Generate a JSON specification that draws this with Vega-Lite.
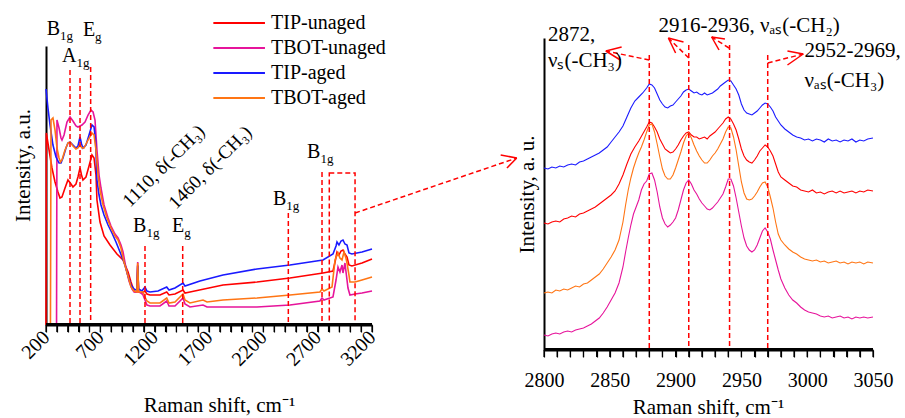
{
"$schema": "https://vega.github.io/schema/vega-lite/v6.json",
"width": 905, "height": 418, "padding": 0, "autosize": {"type": "none"},
"background": "white",
"config": {"view": {"stroke": null}},
"datasets": {
"left": [
{"s":"TIP-unaged","x":200,"y":0},{"s":"TIP-unaged","x":203,"y":192},{"s":"TIP-unaged","x":228,"y":175},{"s":"TIP-unaged","x":255,"y":157},{"s":"TIP-unaged","x":283,"y":143},{"s":"TIP-unaged","x":310,"y":133},{"s":"TIP-unaged","x":329,"y":127},{"s":"TIP-unaged","x":347,"y":128},{"s":"TIP-unaged","x":375,"y":137},{"s":"TIP-unaged","x":402,"y":145},{"s":"TIP-unaged","x":430,"y":141},{"s":"TIP-unaged","x":448,"y":138},{"s":"TIP-unaged","x":476,"y":141},{"s":"TIP-unaged","x":494,"y":148},{"s":"TIP-unaged","x":513,"y":157},{"s":"TIP-unaged","x":527,"y":150},{"s":"TIP-unaged","x":540,"y":145},{"s":"TIP-unaged","x":568,"y":148},{"s":"TIP-unaged","x":596,"y":159},{"s":"TIP-unaged","x":623,"y":170},{"s":"TIP-unaged","x":642,"y":167},{"s":"TIP-unaged","x":660,"y":150},{"s":"TIP-unaged","x":669,"y":125},{"s":"TIP-unaged","x":697,"y":103},{"s":"TIP-unaged","x":734,"y":89},{"s":"TIP-unaged","x":789,"y":80},{"s":"TIP-unaged","x":853,"y":71},{"s":"TIP-unaged","x":909,"y":65},{"s":"TIP-unaged","x":955,"y":53},{"s":"TIP-unaged","x":982,"y":43},{"s":"TIP-unaged","x":1001,"y":37},{"s":"TIP-unaged","x":1019,"y":33},{"s":"TIP-unaged","x":1036,"y":33},{"s":"TIP-unaged","x":1044,"y":60},{"s":"TIP-unaged","x":1052,"y":33},{"s":"TIP-unaged","x":1083,"y":32},{"s":"TIP-unaged","x":1111,"y":34},{"s":"TIP-unaged","x":1129,"y":31},{"s":"TIP-unaged","x":1157,"y":30},{"s":"TIP-unaged","x":1249,"y":30},{"s":"TIP-unaged","x":1311,"y":33},{"s":"TIP-unaged","x":1332,"y":30},{"s":"TIP-unaged","x":1387,"y":31},{"s":"TIP-unaged","x":1461,"y":35},{"s":"TIP-unaged","x":1479,"y":32},{"s":"TIP-unaged","x":1525,"y":33},{"s":"TIP-unaged","x":1829,"y":40},{"s":"TIP-unaged","x":2142,"y":43},{"s":"TIP-unaged","x":2445,"y":47},{"s":"TIP-unaged","x":2749,"y":52},{"s":"TIP-unaged","x":2841,"y":54},{"s":"TIP-unaged","x":2860,"y":63},{"s":"TIP-unaged","x":2878,"y":73},{"s":"TIP-unaged","x":2896,"y":70},{"s":"TIP-unaged","x":2915,"y":74},{"s":"TIP-unaged","x":2933,"y":75},{"s":"TIP-unaged","x":2951,"y":71},{"s":"TIP-unaged","x":2970,"y":68},{"s":"TIP-unaged","x":2988,"y":60},{"s":"TIP-unaged","x":3015,"y":59},{"s":"TIP-unaged","x":3108,"y":62},{"s":"TIP-unaged","x":3200,"y":66},
{"s":"TBOT-unaged","x":200,"y":0},{"s":"TBOT-unaged","x":297,"y":0},{"s":"TBOT-unaged","x":301,"y":205},{"s":"TBOT-unaged","x":320,"y":197},{"s":"TBOT-unaged","x":338,"y":187},{"s":"TBOT-unaged","x":347,"y":185},{"s":"TBOT-unaged","x":366,"y":190},{"s":"TBOT-unaged","x":393,"y":203},{"s":"TBOT-unaged","x":421,"y":208},{"s":"TBOT-unaged","x":448,"y":204},{"s":"TBOT-unaged","x":476,"y":199},{"s":"TBOT-unaged","x":494,"y":198},{"s":"TBOT-unaged","x":513,"y":199},{"s":"TBOT-unaged","x":531,"y":200},{"s":"TBOT-unaged","x":559,"y":203},{"s":"TBOT-unaged","x":587,"y":210},{"s":"TBOT-unaged","x":614,"y":215},{"s":"TBOT-unaged","x":633,"y":213},{"s":"TBOT-unaged","x":651,"y":205},{"s":"TBOT-unaged","x":669,"y":175},{"s":"TBOT-unaged","x":688,"y":150},{"s":"TBOT-unaged","x":706,"y":137},{"s":"TBOT-unaged","x":734,"y":120},{"s":"TBOT-unaged","x":771,"y":107},{"s":"TBOT-unaged","x":798,"y":99},{"s":"TBOT-unaged","x":835,"y":91},{"s":"TBOT-unaged","x":863,"y":87},{"s":"TBOT-unaged","x":890,"y":80},{"s":"TBOT-unaged","x":909,"y":73},{"s":"TBOT-unaged","x":936,"y":57},{"s":"TBOT-unaged","x":964,"y":44},{"s":"TBOT-unaged","x":991,"y":36},{"s":"TBOT-unaged","x":1010,"y":33},{"s":"TBOT-unaged","x":1036,"y":33},{"s":"TBOT-unaged","x":1044,"y":63},{"s":"TBOT-unaged","x":1052,"y":33},{"s":"TBOT-unaged","x":1074,"y":32},{"s":"TBOT-unaged","x":1093,"y":30},{"s":"TBOT-unaged","x":1111,"y":25},{"s":"TBOT-unaged","x":1129,"y":20},{"s":"TBOT-unaged","x":1157,"y":19},{"s":"TBOT-unaged","x":1249,"y":19},{"s":"TBOT-unaged","x":1311,"y":24},{"s":"TBOT-unaged","x":1332,"y":19},{"s":"TBOT-unaged","x":1387,"y":19},{"s":"TBOT-unaged","x":1461,"y":27},{"s":"TBOT-unaged","x":1479,"y":21},{"s":"TBOT-unaged","x":1525,"y":18},{"s":"TBOT-unaged","x":1645,"y":20},{"s":"TBOT-unaged","x":1682,"y":18},{"s":"TBOT-unaged","x":2142,"y":18},{"s":"TBOT-unaged","x":2445,"y":20},{"s":"TBOT-unaged","x":2721,"y":24},{"s":"TBOT-unaged","x":2740,"y":27},{"s":"TBOT-unaged","x":2758,"y":25},{"s":"TBOT-unaged","x":2841,"y":28},{"s":"TBOT-unaged","x":2869,"y":45},{"s":"TBOT-unaged","x":2887,"y":58},{"s":"TBOT-unaged","x":2905,"y":53},{"s":"TBOT-unaged","x":2924,"y":60},{"s":"TBOT-unaged","x":2933,"y":52},{"s":"TBOT-unaged","x":2951,"y":62},{"s":"TBOT-unaged","x":2970,"y":45},{"s":"TBOT-unaged","x":2979,"y":37},{"s":"TBOT-unaged","x":2997,"y":30},{"s":"TBOT-unaged","x":3044,"y":31},{"s":"TBOT-unaged","x":3108,"y":32},{"s":"TBOT-unaged","x":3200,"y":34},
{"s":"TIP-aged","x":200,"y":236},{"s":"TIP-aged","x":218,"y":217},{"s":"TIP-aged","x":237,"y":200},{"s":"TIP-aged","x":264,"y":180},{"s":"TIP-aged","x":292,"y":168},{"s":"TIP-aged","x":320,"y":162},{"s":"TIP-aged","x":338,"y":162},{"s":"TIP-aged","x":356,"y":167},{"s":"TIP-aged","x":384,"y":177},{"s":"TIP-aged","x":402,"y":182},{"s":"TIP-aged","x":421,"y":183},{"s":"TIP-aged","x":448,"y":180},{"s":"TIP-aged","x":476,"y":177},{"s":"TIP-aged","x":494,"y":179},{"s":"TIP-aged","x":513,"y":188},{"s":"TIP-aged","x":527,"y":181},{"s":"TIP-aged","x":540,"y":177},{"s":"TIP-aged","x":568,"y":180},{"s":"TIP-aged","x":596,"y":190},{"s":"TIP-aged","x":623,"y":200},{"s":"TIP-aged","x":642,"y":198},{"s":"TIP-aged","x":656,"y":185},{"s":"TIP-aged","x":669,"y":145},{"s":"TIP-aged","x":688,"y":130},{"s":"TIP-aged","x":706,"y":120},{"s":"TIP-aged","x":734,"y":110},{"s":"TIP-aged","x":771,"y":100},{"s":"TIP-aged","x":807,"y":92},{"s":"TIP-aged","x":844,"y":83},{"s":"TIP-aged","x":881,"y":73},{"s":"TIP-aged","x":918,"y":63},{"s":"TIP-aged","x":955,"y":49},{"s":"TIP-aged","x":982,"y":40},{"s":"TIP-aged","x":1010,"y":36},{"s":"TIP-aged","x":1028,"y":35},{"s":"TIP-aged","x":1036,"y":35},{"s":"TIP-aged","x":1044,"y":59},{"s":"TIP-aged","x":1052,"y":36},{"s":"TIP-aged","x":1083,"y":34},{"s":"TIP-aged","x":1111,"y":38},{"s":"TIP-aged","x":1129,"y":34},{"s":"TIP-aged","x":1157,"y":33},{"s":"TIP-aged","x":1231,"y":34},{"s":"TIP-aged","x":1311,"y":38},{"s":"TIP-aged","x":1332,"y":35},{"s":"TIP-aged","x":1387,"y":37},{"s":"TIP-aged","x":1461,"y":42},{"s":"TIP-aged","x":1479,"y":39},{"s":"TIP-aged","x":1617,"y":44},{"s":"TIP-aged","x":1829,"y":50},{"s":"TIP-aged","x":2142,"y":56},{"s":"TIP-aged","x":2445,"y":60},{"s":"TIP-aged","x":2749,"y":65},{"s":"TIP-aged","x":2841,"y":71},{"s":"TIP-aged","x":2869,"y":79},{"s":"TIP-aged","x":2878,"y":83},{"s":"TIP-aged","x":2896,"y":80},{"s":"TIP-aged","x":2915,"y":84},{"s":"TIP-aged","x":2933,"y":85},{"s":"TIP-aged","x":2951,"y":81},{"s":"TIP-aged","x":2970,"y":80},{"s":"TIP-aged","x":2988,"y":72},{"s":"TIP-aged","x":3015,"y":71},{"s":"TIP-aged","x":3108,"y":73},{"s":"TIP-aged","x":3200,"y":76},
{"s":"TBOT-aged","x":200,"y":0},{"s":"TBOT-aged","x":241,"y":0},{"s":"TBOT-aged","x":246,"y":205},{"s":"TBOT-aged","x":264,"y":207},{"s":"TBOT-aged","x":283,"y":195},{"s":"TBOT-aged","x":301,"y":177},{"s":"TBOT-aged","x":320,"y":167},{"s":"TBOT-aged","x":333,"y":163},{"s":"TBOT-aged","x":347,"y":165},{"s":"TBOT-aged","x":375,"y":175},{"s":"TBOT-aged","x":402,"y":182},{"s":"TBOT-aged","x":421,"y":183},{"s":"TBOT-aged","x":448,"y":179},{"s":"TBOT-aged","x":476,"y":176},{"s":"TBOT-aged","x":494,"y":177},{"s":"TBOT-aged","x":513,"y":180},{"s":"TBOT-aged","x":531,"y":177},{"s":"TBOT-aged","x":550,"y":177},{"s":"TBOT-aged","x":587,"y":185},{"s":"TBOT-aged","x":623,"y":192},{"s":"TBOT-aged","x":642,"y":190},{"s":"TBOT-aged","x":660,"y":175},{"s":"TBOT-aged","x":679,"y":150},{"s":"TBOT-aged","x":697,"y":135},{"s":"TBOT-aged","x":725,"y":120},{"s":"TBOT-aged","x":761,"y":107},{"s":"TBOT-aged","x":798,"y":97},{"s":"TBOT-aged","x":835,"y":89},{"s":"TBOT-aged","x":863,"y":85},{"s":"TBOT-aged","x":890,"y":77},{"s":"TBOT-aged","x":918,"y":63},{"s":"TBOT-aged","x":955,"y":49},{"s":"TBOT-aged","x":982,"y":38},{"s":"TBOT-aged","x":1010,"y":34},{"s":"TBOT-aged","x":1036,"y":33},{"s":"TBOT-aged","x":1044,"y":62},{"s":"TBOT-aged","x":1052,"y":33},{"s":"TBOT-aged","x":1074,"y":33},{"s":"TBOT-aged","x":1093,"y":33},{"s":"TBOT-aged","x":1111,"y":28},{"s":"TBOT-aged","x":1129,"y":24},{"s":"TBOT-aged","x":1157,"y":22},{"s":"TBOT-aged","x":1249,"y":22},{"s":"TBOT-aged","x":1311,"y":27},{"s":"TBOT-aged","x":1332,"y":22},{"s":"TBOT-aged","x":1387,"y":23},{"s":"TBOT-aged","x":1461,"y":31},{"s":"TBOT-aged","x":1479,"y":25},{"s":"TBOT-aged","x":1525,"y":22},{"s":"TBOT-aged","x":1645,"y":25},{"s":"TBOT-aged","x":1682,"y":23},{"s":"TBOT-aged","x":1829,"y":25},{"s":"TBOT-aged","x":2142,"y":27},{"s":"TBOT-aged","x":2445,"y":30},{"s":"TBOT-aged","x":2721,"y":33},{"s":"TBOT-aged","x":2740,"y":36},{"s":"TBOT-aged","x":2758,"y":34},{"s":"TBOT-aged","x":2832,"y":38},{"s":"TBOT-aged","x":2860,"y":65},{"s":"TBOT-aged","x":2887,"y":72},{"s":"TBOT-aged","x":2905,"y":67},{"s":"TBOT-aged","x":2924,"y":65},{"s":"TBOT-aged","x":2942,"y":73},{"s":"TBOT-aged","x":2960,"y":67},{"s":"TBOT-aged","x":2970,"y":62},{"s":"TBOT-aged","x":2988,"y":50},{"s":"TBOT-aged","x":2997,"y":43},{"s":"TBOT-aged","x":3044,"y":43},{"s":"TBOT-aged","x":3108,"y":45},{"s":"TBOT-aged","x":3200,"y":48}
],
"right": [
{"s":"TIP-unaged","x":2800,"y":127},{"s":"TIP-unaged","x":2803,"y":126},{"s":"TIP-unaged","x":2806,"y":128},{"s":"TIP-unaged","x":2809,"y":129},{"s":"TIP-unaged","x":2812,"y":128},{"s":"TIP-unaged","x":2815,"y":131},{"s":"TIP-unaged","x":2818,"y":132},{"s":"TIP-unaged","x":2821,"y":134},{"s":"TIP-unaged","x":2824,"y":133},{"s":"TIP-unaged","x":2827,"y":136},{"s":"TIP-unaged","x":2830,"y":137},{"s":"TIP-unaged","x":2833,"y":139},{"s":"TIP-unaged","x":2836,"y":141},{"s":"TIP-unaged","x":2839,"y":143},{"s":"TIP-unaged","x":2842,"y":146},{"s":"TIP-unaged","x":2845,"y":149},{"s":"TIP-unaged","x":2848,"y":152},{"s":"TIP-unaged","x":2851,"y":155},{"s":"TIP-unaged","x":2854,"y":159},{"s":"TIP-unaged","x":2857,"y":166},{"s":"TIP-unaged","x":2860,"y":175},{"s":"TIP-unaged","x":2863,"y":186},{"s":"TIP-unaged","x":2866,"y":196},{"s":"TIP-unaged","x":2869,"y":203},{"s":"TIP-unaged","x":2872,"y":209},{"s":"TIP-unaged","x":2875,"y":216},{"s":"TIP-unaged","x":2878,"y":223},{"s":"TIP-unaged","x":2880,"y":228},{"s":"TIP-unaged","x":2882,"y":227},{"s":"TIP-unaged","x":2884,"y":223},{"s":"TIP-unaged","x":2886,"y":218},{"s":"TIP-unaged","x":2888,"y":211},{"s":"TIP-unaged","x":2890,"y":206},{"s":"TIP-unaged","x":2892,"y":201},{"s":"TIP-unaged","x":2894,"y":199},{"s":"TIP-unaged","x":2896,"y":197},{"s":"TIP-unaged","x":2898,"y":198},{"s":"TIP-unaged","x":2900,"y":201},{"s":"TIP-unaged","x":2902,"y":205},{"s":"TIP-unaged","x":2904,"y":210},{"s":"TIP-unaged","x":2906,"y":214},{"s":"TIP-unaged","x":2908,"y":217},{"s":"TIP-unaged","x":2910,"y":218},{"s":"TIP-unaged","x":2912,"y":215},{"s":"TIP-unaged","x":2914,"y":213},{"s":"TIP-unaged","x":2916,"y":213},{"s":"TIP-unaged","x":2918,"y":211},{"s":"TIP-unaged","x":2920,"y":212},{"s":"TIP-unaged","x":2922,"y":213},{"s":"TIP-unaged","x":2924,"y":211},{"s":"TIP-unaged","x":2926,"y":214},{"s":"TIP-unaged","x":2928,"y":216},{"s":"TIP-unaged","x":2930,"y":218},{"s":"TIP-unaged","x":2932,"y":221},{"s":"TIP-unaged","x":2934,"y":224},{"s":"TIP-unaged","x":2936,"y":227},{"s":"TIP-unaged","x":2938,"y":231},{"s":"TIP-unaged","x":2940,"y":233},{"s":"TIP-unaged","x":2942,"y":231},{"s":"TIP-unaged","x":2944,"y":226},{"s":"TIP-unaged","x":2946,"y":220},{"s":"TIP-unaged","x":2948,"y":211},{"s":"TIP-unaged","x":2950,"y":201},{"s":"TIP-unaged","x":2952,"y":194},{"s":"TIP-unaged","x":2954,"y":190},{"s":"TIP-unaged","x":2956,"y":188},{"s":"TIP-unaged","x":2958,"y":187},{"s":"TIP-unaged","x":2960,"y":190},{"s":"TIP-unaged","x":2962,"y":194},{"s":"TIP-unaged","x":2964,"y":199},{"s":"TIP-unaged","x":2966,"y":202},{"s":"TIP-unaged","x":2968,"y":205},{"s":"TIP-unaged","x":2970,"y":203},{"s":"TIP-unaged","x":2972,"y":199},{"s":"TIP-unaged","x":2974,"y":194},{"s":"TIP-unaged","x":2976,"y":186},{"s":"TIP-unaged","x":2978,"y":178},{"s":"TIP-unaged","x":2980,"y":173},{"s":"TIP-unaged","x":2983,"y":170},{"s":"TIP-unaged","x":2986,"y":167},{"s":"TIP-unaged","x":2989,"y":164},{"s":"TIP-unaged","x":2992,"y":163},{"s":"TIP-unaged","x":2995,"y":160},{"s":"TIP-unaged","x":2998,"y":159},{"s":"TIP-unaged","x":3001,"y":158},{"s":"TIP-unaged","x":3004,"y":160},{"s":"TIP-unaged","x":3007,"y":157},{"s":"TIP-unaged","x":3010,"y":158},{"s":"TIP-unaged","x":3013,"y":156},{"s":"TIP-unaged","x":3016,"y":158},{"s":"TIP-unaged","x":3019,"y":159},{"s":"TIP-unaged","x":3022,"y":157},{"s":"TIP-unaged","x":3025,"y":159},{"s":"TIP-unaged","x":3028,"y":157},{"s":"TIP-unaged","x":3031,"y":158},{"s":"TIP-unaged","x":3034,"y":159},{"s":"TIP-unaged","x":3037,"y":157},{"s":"TIP-unaged","x":3040,"y":159},{"s":"TIP-unaged","x":3043,"y":158},{"s":"TIP-unaged","x":3046,"y":160},{"s":"TIP-unaged","x":3050,"y":159},
{"s":"TBOT-unaged","x":2800,"y":15},{"s":"TBOT-unaged","x":2803,"y":14},{"s":"TBOT-unaged","x":2806,"y":16},{"s":"TBOT-unaged","x":2809,"y":17},{"s":"TBOT-unaged","x":2812,"y":16},{"s":"TBOT-unaged","x":2815,"y":18},{"s":"TBOT-unaged","x":2818,"y":19},{"s":"TBOT-unaged","x":2821,"y":18},{"s":"TBOT-unaged","x":2824,"y":20},{"s":"TBOT-unaged","x":2827,"y":21},{"s":"TBOT-unaged","x":2830,"y":22},{"s":"TBOT-unaged","x":2833,"y":24},{"s":"TBOT-unaged","x":2836,"y":26},{"s":"TBOT-unaged","x":2839,"y":29},{"s":"TBOT-unaged","x":2842,"y":32},{"s":"TBOT-unaged","x":2845,"y":37},{"s":"TBOT-unaged","x":2848,"y":43},{"s":"TBOT-unaged","x":2851,"y":50},{"s":"TBOT-unaged","x":2854,"y":57},{"s":"TBOT-unaged","x":2857,"y":67},{"s":"TBOT-unaged","x":2860,"y":83},{"s":"TBOT-unaged","x":2862,"y":98},{"s":"TBOT-unaged","x":2864,"y":112},{"s":"TBOT-unaged","x":2866,"y":125},{"s":"TBOT-unaged","x":2868,"y":136},{"s":"TBOT-unaged","x":2870,"y":143},{"s":"TBOT-unaged","x":2872,"y":150},{"s":"TBOT-unaged","x":2874,"y":160},{"s":"TBOT-unaged","x":2876,"y":166},{"s":"TBOT-unaged","x":2878,"y":169},{"s":"TBOT-unaged","x":2880,"y":176},{"s":"TBOT-unaged","x":2882,"y":177},{"s":"TBOT-unaged","x":2884,"y":170},{"s":"TBOT-unaged","x":2886,"y":158},{"s":"TBOT-unaged","x":2888,"y":143},{"s":"TBOT-unaged","x":2890,"y":132},{"s":"TBOT-unaged","x":2892,"y":126},{"s":"TBOT-unaged","x":2894,"y":123},{"s":"TBOT-unaged","x":2896,"y":125},{"s":"TBOT-unaged","x":2898,"y":128},{"s":"TBOT-unaged","x":2900,"y":132},{"s":"TBOT-unaged","x":2902,"y":140},{"s":"TBOT-unaged","x":2904,"y":150},{"s":"TBOT-unaged","x":2906,"y":160},{"s":"TBOT-unaged","x":2908,"y":167},{"s":"TBOT-unaged","x":2910,"y":170},{"s":"TBOT-unaged","x":2912,"y":166},{"s":"TBOT-unaged","x":2914,"y":160},{"s":"TBOT-unaged","x":2916,"y":156},{"s":"TBOT-unaged","x":2918,"y":151},{"s":"TBOT-unaged","x":2920,"y":147},{"s":"TBOT-unaged","x":2922,"y":144},{"s":"TBOT-unaged","x":2924,"y":141},{"s":"TBOT-unaged","x":2926,"y":140},{"s":"TBOT-unaged","x":2928,"y":142},{"s":"TBOT-unaged","x":2930,"y":145},{"s":"TBOT-unaged","x":2932,"y":148},{"s":"TBOT-unaged","x":2934,"y":152},{"s":"TBOT-unaged","x":2936,"y":156},{"s":"TBOT-unaged","x":2938,"y":163},{"s":"TBOT-unaged","x":2940,"y":171},{"s":"TBOT-unaged","x":2942,"y":171},{"s":"TBOT-unaged","x":2944,"y":164},{"s":"TBOT-unaged","x":2946,"y":152},{"s":"TBOT-unaged","x":2948,"y":138},{"s":"TBOT-unaged","x":2950,"y":124},{"s":"TBOT-unaged","x":2952,"y":112},{"s":"TBOT-unaged","x":2954,"y":104},{"s":"TBOT-unaged","x":2956,"y":100},{"s":"TBOT-unaged","x":2958,"y":98},{"s":"TBOT-unaged","x":2960,"y":100},{"s":"TBOT-unaged","x":2962,"y":105},{"s":"TBOT-unaged","x":2964,"y":112},{"s":"TBOT-unaged","x":2966,"y":119},{"s":"TBOT-unaged","x":2968,"y":122},{"s":"TBOT-unaged","x":2970,"y":118},{"s":"TBOT-unaged","x":2972,"y":111},{"s":"TBOT-unaged","x":2974,"y":100},{"s":"TBOT-unaged","x":2976,"y":90},{"s":"TBOT-unaged","x":2978,"y":80},{"s":"TBOT-unaged","x":2980,"y":71},{"s":"TBOT-unaged","x":2983,"y":62},{"s":"TBOT-unaged","x":2986,"y":55},{"s":"TBOT-unaged","x":2989,"y":50},{"s":"TBOT-unaged","x":2992,"y":47},{"s":"TBOT-unaged","x":2995,"y":43},{"s":"TBOT-unaged","x":2998,"y":40},{"s":"TBOT-unaged","x":3001,"y":38},{"s":"TBOT-unaged","x":3004,"y":37},{"s":"TBOT-unaged","x":3007,"y":36},{"s":"TBOT-unaged","x":3010,"y":34},{"s":"TBOT-unaged","x":3013,"y":33},{"s":"TBOT-unaged","x":3016,"y":34},{"s":"TBOT-unaged","x":3019,"y":32},{"s":"TBOT-unaged","x":3022,"y":33},{"s":"TBOT-unaged","x":3025,"y":34},{"s":"TBOT-unaged","x":3028,"y":32},{"s":"TBOT-unaged","x":3031,"y":33},{"s":"TBOT-unaged","x":3034,"y":31},{"s":"TBOT-unaged","x":3037,"y":33},{"s":"TBOT-unaged","x":3040,"y":32},{"s":"TBOT-unaged","x":3043,"y":33},{"s":"TBOT-unaged","x":3046,"y":32},{"s":"TBOT-unaged","x":3050,"y":33},
{"s":"TIP-aged","x":2800,"y":182},{"s":"TIP-aged","x":2803,"y":181},{"s":"TIP-aged","x":2806,"y":183},{"s":"TIP-aged","x":2809,"y":182},{"s":"TIP-aged","x":2812,"y":184},{"s":"TIP-aged","x":2815,"y":183},{"s":"TIP-aged","x":2818,"y":185},{"s":"TIP-aged","x":2821,"y":186},{"s":"TIP-aged","x":2824,"y":185},{"s":"TIP-aged","x":2827,"y":188},{"s":"TIP-aged","x":2830,"y":189},{"s":"TIP-aged","x":2833,"y":191},{"s":"TIP-aged","x":2836,"y":193},{"s":"TIP-aged","x":2839,"y":195},{"s":"TIP-aged","x":2842,"y":197},{"s":"TIP-aged","x":2845,"y":200},{"s":"TIP-aged","x":2848,"y":203},{"s":"TIP-aged","x":2851,"y":208},{"s":"TIP-aged","x":2854,"y":213},{"s":"TIP-aged","x":2857,"y":218},{"s":"TIP-aged","x":2860,"y":224},{"s":"TIP-aged","x":2863,"y":233},{"s":"TIP-aged","x":2866,"y":242},{"s":"TIP-aged","x":2869,"y":249},{"s":"TIP-aged","x":2872,"y":253},{"s":"TIP-aged","x":2875,"y":257},{"s":"TIP-aged","x":2878,"y":262},{"s":"TIP-aged","x":2880,"y":266},{"s":"TIP-aged","x":2882,"y":265},{"s":"TIP-aged","x":2884,"y":262},{"s":"TIP-aged","x":2886,"y":256},{"s":"TIP-aged","x":2888,"y":250},{"s":"TIP-aged","x":2890,"y":246},{"s":"TIP-aged","x":2892,"y":243},{"s":"TIP-aged","x":2894,"y":242},{"s":"TIP-aged","x":2896,"y":244},{"s":"TIP-aged","x":2898,"y":245},{"s":"TIP-aged","x":2900,"y":248},{"s":"TIP-aged","x":2902,"y":251},{"s":"TIP-aged","x":2904,"y":254},{"s":"TIP-aged","x":2906,"y":258},{"s":"TIP-aged","x":2908,"y":260},{"s":"TIP-aged","x":2910,"y":261},{"s":"TIP-aged","x":2912,"y":259},{"s":"TIP-aged","x":2914,"y":257},{"s":"TIP-aged","x":2916,"y":258},{"s":"TIP-aged","x":2918,"y":256},{"s":"TIP-aged","x":2920,"y":255},{"s":"TIP-aged","x":2922,"y":257},{"s":"TIP-aged","x":2924,"y":255},{"s":"TIP-aged","x":2926,"y":256},{"s":"TIP-aged","x":2928,"y":257},{"s":"TIP-aged","x":2930,"y":259},{"s":"TIP-aged","x":2932,"y":261},{"s":"TIP-aged","x":2934,"y":264},{"s":"TIP-aged","x":2936,"y":266},{"s":"TIP-aged","x":2938,"y":268},{"s":"TIP-aged","x":2940,"y":270},{"s":"TIP-aged","x":2942,"y":269},{"s":"TIP-aged","x":2944,"y":265},{"s":"TIP-aged","x":2946,"y":261},{"s":"TIP-aged","x":2948,"y":255},{"s":"TIP-aged","x":2950,"y":246},{"s":"TIP-aged","x":2952,"y":240},{"s":"TIP-aged","x":2954,"y":237},{"s":"TIP-aged","x":2956,"y":236},{"s":"TIP-aged","x":2958,"y":235},{"s":"TIP-aged","x":2960,"y":237},{"s":"TIP-aged","x":2962,"y":239},{"s":"TIP-aged","x":2964,"y":242},{"s":"TIP-aged","x":2966,"y":245},{"s":"TIP-aged","x":2968,"y":247},{"s":"TIP-aged","x":2970,"y":246},{"s":"TIP-aged","x":2972,"y":243},{"s":"TIP-aged","x":2974,"y":239},{"s":"TIP-aged","x":2976,"y":233},{"s":"TIP-aged","x":2978,"y":229},{"s":"TIP-aged","x":2980,"y":225},{"s":"TIP-aged","x":2983,"y":221},{"s":"TIP-aged","x":2986,"y":218},{"s":"TIP-aged","x":2989,"y":215},{"s":"TIP-aged","x":2992,"y":213},{"s":"TIP-aged","x":2995,"y":212},{"s":"TIP-aged","x":2998,"y":210},{"s":"TIP-aged","x":3001,"y":211},{"s":"TIP-aged","x":3004,"y":209},{"s":"TIP-aged","x":3007,"y":211},{"s":"TIP-aged","x":3010,"y":210},{"s":"TIP-aged","x":3013,"y":208},{"s":"TIP-aged","x":3016,"y":211},{"s":"TIP-aged","x":3019,"y":209},{"s":"TIP-aged","x":3022,"y":210},{"s":"TIP-aged","x":3025,"y":208},{"s":"TIP-aged","x":3028,"y":210},{"s":"TIP-aged","x":3031,"y":209},{"s":"TIP-aged","x":3034,"y":211},{"s":"TIP-aged","x":3037,"y":208},{"s":"TIP-aged","x":3040,"y":210},{"s":"TIP-aged","x":3043,"y":209},{"s":"TIP-aged","x":3046,"y":211},{"s":"TIP-aged","x":3050,"y":212},
{"s":"TBOT-aged","x":2800,"y":57},{"s":"TBOT-aged","x":2803,"y":58},{"s":"TBOT-aged","x":2806,"y":57},{"s":"TBOT-aged","x":2809,"y":60},{"s":"TBOT-aged","x":2812,"y":59},{"s":"TBOT-aged","x":2815,"y":61},{"s":"TBOT-aged","x":2818,"y":60},{"s":"TBOT-aged","x":2821,"y":62},{"s":"TBOT-aged","x":2824,"y":64},{"s":"TBOT-aged","x":2827,"y":63},{"s":"TBOT-aged","x":2830,"y":66},{"s":"TBOT-aged","x":2833,"y":67},{"s":"TBOT-aged","x":2836,"y":70},{"s":"TBOT-aged","x":2839,"y":73},{"s":"TBOT-aged","x":2842,"y":76},{"s":"TBOT-aged","x":2845,"y":81},{"s":"TBOT-aged","x":2848,"y":87},{"s":"TBOT-aged","x":2851,"y":93},{"s":"TBOT-aged","x":2854,"y":100},{"s":"TBOT-aged","x":2857,"y":110},{"s":"TBOT-aged","x":2860,"y":128},{"s":"TBOT-aged","x":2862,"y":145},{"s":"TBOT-aged","x":2864,"y":160},{"s":"TBOT-aged","x":2866,"y":172},{"s":"TBOT-aged","x":2868,"y":182},{"s":"TBOT-aged","x":2870,"y":190},{"s":"TBOT-aged","x":2872,"y":197},{"s":"TBOT-aged","x":2874,"y":203},{"s":"TBOT-aged","x":2876,"y":210},{"s":"TBOT-aged","x":2878,"y":218},{"s":"TBOT-aged","x":2880,"y":225},{"s":"TBOT-aged","x":2882,"y":226},{"s":"TBOT-aged","x":2884,"y":218},{"s":"TBOT-aged","x":2886,"y":206},{"s":"TBOT-aged","x":2888,"y":193},{"s":"TBOT-aged","x":2890,"y":181},{"s":"TBOT-aged","x":2892,"y":174},{"s":"TBOT-aged","x":2894,"y":171},{"s":"TBOT-aged","x":2896,"y":171},{"s":"TBOT-aged","x":2898,"y":175},{"s":"TBOT-aged","x":2900,"y":182},{"s":"TBOT-aged","x":2902,"y":190},{"s":"TBOT-aged","x":2904,"y":198},{"s":"TBOT-aged","x":2906,"y":207},{"s":"TBOT-aged","x":2908,"y":214},{"s":"TBOT-aged","x":2910,"y":217},{"s":"TBOT-aged","x":2912,"y":212},{"s":"TBOT-aged","x":2914,"y":205},{"s":"TBOT-aged","x":2916,"y":199},{"s":"TBOT-aged","x":2918,"y":194},{"s":"TBOT-aged","x":2920,"y":190},{"s":"TBOT-aged","x":2922,"y":187},{"s":"TBOT-aged","x":2924,"y":187},{"s":"TBOT-aged","x":2926,"y":190},{"s":"TBOT-aged","x":2928,"y":194},{"s":"TBOT-aged","x":2930,"y":197},{"s":"TBOT-aged","x":2932,"y":201},{"s":"TBOT-aged","x":2934,"y":206},{"s":"TBOT-aged","x":2936,"y":211},{"s":"TBOT-aged","x":2938,"y":218},{"s":"TBOT-aged","x":2940,"y":223},{"s":"TBOT-aged","x":2942,"y":222},{"s":"TBOT-aged","x":2944,"y":213},{"s":"TBOT-aged","x":2946,"y":200},{"s":"TBOT-aged","x":2948,"y":184},{"s":"TBOT-aged","x":2950,"y":168},{"s":"TBOT-aged","x":2952,"y":157},{"s":"TBOT-aged","x":2954,"y":151},{"s":"TBOT-aged","x":2956,"y":150},{"s":"TBOT-aged","x":2958,"y":151},{"s":"TBOT-aged","x":2960,"y":154},{"s":"TBOT-aged","x":2962,"y":158},{"s":"TBOT-aged","x":2964,"y":163},{"s":"TBOT-aged","x":2966,"y":167},{"s":"TBOT-aged","x":2968,"y":168},{"s":"TBOT-aged","x":2970,"y":163},{"s":"TBOT-aged","x":2972,"y":153},{"s":"TBOT-aged","x":2974,"y":142},{"s":"TBOT-aged","x":2976,"y":128},{"s":"TBOT-aged","x":2978,"y":116},{"s":"TBOT-aged","x":2980,"y":110},{"s":"TBOT-aged","x":2983,"y":105},{"s":"TBOT-aged","x":2986,"y":101},{"s":"TBOT-aged","x":2989,"y":98},{"s":"TBOT-aged","x":2992,"y":96},{"s":"TBOT-aged","x":2995,"y":93},{"s":"TBOT-aged","x":2998,"y":91},{"s":"TBOT-aged","x":3001,"y":90},{"s":"TBOT-aged","x":3004,"y":89},{"s":"TBOT-aged","x":3007,"y":90},{"s":"TBOT-aged","x":3010,"y":88},{"s":"TBOT-aged","x":3013,"y":89},{"s":"TBOT-aged","x":3016,"y":87},{"s":"TBOT-aged","x":3019,"y":88},{"s":"TBOT-aged","x":3022,"y":89},{"s":"TBOT-aged","x":3025,"y":87},{"s":"TBOT-aged","x":3028,"y":88},{"s":"TBOT-aged","x":3031,"y":86},{"s":"TBOT-aged","x":3034,"y":88},{"s":"TBOT-aged","x":3037,"y":87},{"s":"TBOT-aged","x":3040,"y":88},{"s":"TBOT-aged","x":3043,"y":86},{"s":"TBOT-aged","x":3046,"y":88},{"s":"TBOT-aged","x":3050,"y":87}
],
"lticks": [{"x":200,"y":0,"y2":-7},{"x":300,"y":0,"y2":-7},{"x":400,"y":0,"y2":-7},{"x":500,"y":0,"y2":-7},{"x":600,"y":0,"y2":-7},{"x":700,"y":0,"y2":-7},{"x":800,"y":0,"y2":-7},{"x":900,"y":0,"y2":-7},{"x":1000,"y":0,"y2":-7},{"x":1100,"y":0,"y2":-7},{"x":1200,"y":0,"y2":-7},{"x":1300,"y":0,"y2":-7},{"x":1400,"y":0,"y2":-7},{"x":1500,"y":0,"y2":-7},{"x":1600,"y":0,"y2":-7},{"x":1700,"y":0,"y2":-7},{"x":1800,"y":0,"y2":-7},{"x":1900,"y":0,"y2":-7},{"x":2000,"y":0,"y2":-7},{"x":2100,"y":0,"y2":-7},{"x":2200,"y":0,"y2":-7},{"x":2300,"y":0,"y2":-7},{"x":2400,"y":0,"y2":-7},{"x":2500,"y":0,"y2":-7},{"x":2600,"y":0,"y2":-7},{"x":2700,"y":0,"y2":-7},{"x":2800,"y":0,"y2":-7},{"x":2900,"y":0,"y2":-7},{"x":3000,"y":0,"y2":-7},{"x":3100,"y":0,"y2":-7},{"x":3200,"y":0,"y2":-7}],
"rticks": [{"x":2800,"y":0,"y2":-7},{"x":2810,"y":0,"y2":-7},{"x":2820,"y":0,"y2":-7},{"x":2830,"y":0,"y2":-7},{"x":2840,"y":0,"y2":-7},{"x":2850,"y":0,"y2":-7},{"x":2860,"y":0,"y2":-7},{"x":2870,"y":0,"y2":-7},{"x":2880,"y":0,"y2":-7},{"x":2890,"y":0,"y2":-7},{"x":2900,"y":0,"y2":-7},{"x":2910,"y":0,"y2":-7},{"x":2920,"y":0,"y2":-7},{"x":2930,"y":0,"y2":-7},{"x":2940,"y":0,"y2":-7},{"x":2950,"y":0,"y2":-7},{"x":2960,"y":0,"y2":-7},{"x":2970,"y":0,"y2":-7},{"x":2980,"y":0,"y2":-7},{"x":2990,"y":0,"y2":-7},{"x":3000,"y":0,"y2":-7},{"x":3010,"y":0,"y2":-7},{"x":3020,"y":0,"y2":-7},{"x":3030,"y":0,"y2":-7},{"x":3040,"y":0,"y2":-7},{"x":3050,"y":0,"y2":-7}],
"ldomain": [{"x":200,"x2":3200,"y":2,"y2":-1}],
"rdomain": [{"x":2800,"x2":3050,"y":2,"y2":-1}],
"ldash": [
{"x":421,"y":255,"x2":421,"y2":0},{"x":513,"y":247,"x2":513,"y2":0},{"x":611,"y":258,"x2":611,"y2":0},{"x":1111,"y":79,"x2":1111,"y2":0},{"x":1458,"y":79,"x2":1458,"y2":0},{"x":2430,"y":112,"x2":2430,"y2":0},{"x":2740,"y":153,"x2":2740,"y2":0},{"x":3044,"y":112,"x2":4532,"y2":167}
],
"lrect": [{"x":2807,"x2":3044,"y":0,"y2":152}],
"larms": [{"x":4532,"y":167,"x2":4384,"y2":170},{"x":4532,"y":167,"x2":4442,"y2":157}],
"lmain": [
{"x":206,"y":290,"t":"B"},{"x":540,"y":289,"t":"E"},{"x":347,"y":263,"t":"A"},{"x":1001,"y":93,"t":"B"},{"x":1360,"y":93,"t":"E"},{"x":2289,"y":120,"t":"B"},{"x":2602,"y":167,"t":"B"}
],
"lsub": [
{"x":329,"y":285,"t":"1g"},{"x":652,"y":284,"t":"g"},{"x":480,"y":258,"t":"1g"},{"x":1124,"y":88,"t":"1g"},{"x":1472,"y":88,"t":"g"},{"x":2412,"y":115,"t":"1g"},{"x":2725,"y":162,"t":"1g"}
],
"lrot": [
{"x":973,"y":117,"t":"1110, δ(-CH₃)"},{"x":1396,"y":115,"t":"1460, δ(-CH₃)"}
],
"legend": [
{"s":"TIP-unaged","x":1740,"x2":2215,"y":302,"tx":2271},{"s":"TBOT-unaged","x":1740,"x2":2215,"y":277,"tx":2271},{"s":"TIP-aged","x":1740,"x2":2215,"y":252,"tx":2271},{"s":"TBOT-aged","x":1740,"x2":2215,"y":227,"tx":2271}
],
"rdash": [
{"x":2880,"y":295,"x2":2880,"y2":0},{"x":2910,"y":305,"x2":2910,"y2":0},{"x":2941,"y":305,"x2":2941,"y2":0},{"x":2970,"y":295,"x2":2970,"y2":0},
{"x":2880,"y":290,"x2":2847,"y2":299},{"x":2910,"y":292,"x2":2894.5,"y2":312},{"x":2940.6,"y":302,"x2":2927.4,"y2":313},{"x":2970,"y":287,"x2":2997,"y2":296}
],
"rarms": [
{"x":2847,"y":299,"x2":2859,"y2":303},{"x":2847,"y":299,"x2":2858,"y2":290},
{"x":2894.5,"y":312,"x2":2906,"y2":308},{"x":2894.5,"y":312,"x2":2900,"y2":297},
{"x":2927.4,"y":313,"x2":2937.5,"y2":311},{"x":2927.4,"y":313,"x2":2933,"y2":300},
{"x":2997,"y":296,"x2":2985,"y2":299},{"x":2997,"y":296,"x2":2985,"y2":285}
],
"rtext": [
{"x":2803,"y":309,"t":"2872,"},{"x":2803,"y":283,"t":"νₛ(-CH₃)"},{"x":2887,"y":318,"t":"2916-2936, νₐₛ(-CH₂)"},{"x":2998,"y":293,"t":"2952-2969,"},{"x":2998,"y":263,"t":"νₐₛ(-CH₃)"}
]
},
"resolve": {"scale": {"x": "independent", "y": "independent"}, "axis": {"x": "independent", "y": "independent"}},
"layer": [
{
"encoding": {
  "x": {"field": "x", "type": "quantitative", "scale": {"domain": [200, 3200], "range": [46, 372], "nice": false, "zero": false},
    "axis": {"orient": "bottom", "offset": -93, "values": [200,300,400,500,600,700,800,900,1000,1100,1200,1300,1400,1500,1600,1700,1800,1900,2000,2100,2200,2300,2400,2500,2600,2700,2800,2900,3000,3100,3200], "format": "d", "labelExpr": "(datum.value-200)%500==0 ? datum.label : ''", "labelAngle": -45, "labelAlign": "right", "labelBaseline": "middle", "labelFont": "Liberation Serif", "labelFontSize": 20, "labelColor": "black", "labelPadding": 2, "labelOverlap": false, "labelFlush": false, "tickSize": 7, "tickColor": "#000000", "tickWidth": 1.2, "domainColor": "black", "domainWidth": 2, "grid": false,
      "title": "Raman shift, cm⁻¹", "titleFont": "Liberation Serif", "titleFontSize": 21, "titleFontWeight": "normal", "titleColor": "black", "titleX": 219, "titleY": 86, "titleBaseline": "alphabetic", "titleAlign": "center"}},
  "y": {"field": "y", "type": "quantitative", "scale": {"domain": [0, 279], "range": [325, 46], "nice": false, "zero": false},
    "axis": {"orient": "left", "offset": -46, "ticks": false, "labels": false, "domainColor": "black", "domainWidth": 2, "grid": false,
      "title": "Intensity, a.u.", "titleFont": "Liberation Serif", "titleFontSize": 21, "titleFontWeight": "normal", "titleColor": "black", "titleX": -23, "titleY": 165, "titleAngle": -90, "titleAlign": "center", "titleBaseline": "middle"}}
},
"layer": [
{"data": {"name": "left"}, "mark": {"type": "line", "strokeWidth": 1.6},
 "encoding": {
  "color": {"field": "s", "type": "nominal", "scale": {"domain": ["TIP-unaged", "TBOT-unaged", "TIP-aged", "TBOT-aged"], "range": ["#ff0000", "#e6149b", "#1a1aff", "#ff7514"]}, "legend": null}
 }},
{"data": {"name": "ldash"}, "mark": {"type": "rule", "color": "#ff0000", "strokeWidth": 1.5, "strokeDash": [5, 3]},
 "encoding": {"x2": {"field": "x2"}, "y2": {"field": "y2"}}},
{"data": {"name": "lrect"}, "mark": {"type": "rect", "filled": false, "stroke": "#ff0000", "strokeWidth": 1.5, "strokeDash": [5, 3]},
 "encoding": {"x2": {"field": "x2"}, "y2": {"field": "y2"}}},
{"data": {"name": "larms"}, "mark": {"type": "rule", "color": "#ff0000", "strokeWidth": 1.5},
 "encoding": {"x2": {"field": "x2"}, "y2": {"field": "y2"}}},
{"data": {"name": "ldomain"}, "mark": {"type": "rect", "color": "black", "clip": false},
 "encoding": {"x2": {"field": "x2"}, "y2": {"field": "y2"}}},
{"data": {"name": "lticks"}, "mark": {"type": "rule", "color": "black", "strokeWidth": 1.2, "clip": false},
 "encoding": {"y2": {"field": "y2"}}},
{"data": {"name": "lmain"}, "mark": {"type": "text", "font": "Liberation Serif", "fontSize": 20, "align": "left", "baseline": "alphabetic", "color": "black"},
 "encoding": {"text": {"field": "t"}}},
{"data": {"name": "lsub"}, "mark": {"type": "text", "font": "Liberation Serif", "fontSize": 13, "align": "left", "baseline": "alphabetic", "color": "black"},
 "encoding": {"text": {"field": "t"}}},
{"data": {"name": "lrot"}, "mark": {"type": "text", "font": "Liberation Serif", "fontSize": 19, "align": "left", "baseline": "alphabetic", "angle": -45, "color": "black"},
 "encoding": {"text": {"field": "t"}}},
{"data": {"name": "legend"}, "mark": {"type": "rule", "strokeWidth": 2},
 "encoding": {"x2": {"field": "x2"}, "color": {"field": "s", "type": "nominal", "legend": null}}},
{"data": {"name": "legend"}, "mark": {"type": "text", "font": "Liberation Serif", "fontSize": 20, "align": "left", "baseline": "middle", "color": "black"},
 "encoding": {"x": {"field": "tx", "type": "quantitative"}, "text": {"field": "s"}}}
]
},
{
"encoding": {
  "x": {"field": "x", "type": "quantitative", "scale": {"domain": [2800, 3050], "range": [544, 873], "nice": false, "zero": false},
    "axis": {"orient": "bottom", "offset": -68, "values": [2800,2810,2820,2830,2840,2850,2860,2870,2880,2890,2900,2910,2920,2930,2940,2950,2960,2970,2980,2990,3000,3010,3020,3030,3040,3050], "format": "d", "labelExpr": "datum.value%50==0 ? datum.label : ''", "labelAngle": 0, "labelAlign": "center", "labelFont": "Liberation Serif", "labelFontSize": 20, "labelColor": "black", "labelPadding": 13, "labelOverlap": false, "labelFlush": false, "tickSize": 7, "tickColor": "#000000", "tickWidth": 1.2, "domainColor": "black", "domainWidth": 2, "grid": false,
      "title": "Raman shift, cm⁻¹", "titleFont": "Liberation Serif", "titleFontSize": 21, "titleFontWeight": "normal", "titleColor": "black", "titleX": 708, "titleY": 63, "titleBaseline": "alphabetic", "titleAlign": "center"}},
  "y": {"field": "y", "type": "quantitative", "scale": {"domain": [0, 312], "range": [350, 38], "nice": false, "zero": false},
    "axis": {"orient": "left", "offset": -544, "ticks": false, "labels": false, "domainColor": "black", "domainWidth": 2, "grid": false,
      "title": "Intensity, a. u.", "titleFont": "Liberation Serif", "titleFontSize": 21, "titleFontWeight": "normal", "titleColor": "black", "titleX": -17, "titleY": 194, "titleAngle": -90, "titleAlign": "center", "titleBaseline": "middle"}}
},
"layer": [
{"data": {"name": "right"}, "mark": {"type": "line", "strokeWidth": 1.1},
 "encoding": {
  "color": {"field": "s", "type": "nominal", "scale": {"domain": ["TIP-unaged", "TBOT-unaged", "TIP-aged", "TBOT-aged"], "range": ["#ff0000", "#e6149b", "#1a1aff", "#ff7514"]}, "legend": null}
 }},
{"data": {"name": "rdash"}, "mark": {"type": "rule", "color": "#ff0000", "strokeWidth": 1.5, "strokeDash": [5, 3]},
 "encoding": {"x2": {"field": "x2"}, "y2": {"field": "y2"}}},
{"data": {"name": "rarms"}, "mark": {"type": "rule", "color": "#ff0000", "strokeWidth": 1.5},
 "encoding": {"x2": {"field": "x2"}, "y2": {"field": "y2"}}},
{"data": {"name": "rdomain"}, "mark": {"type": "rect", "color": "black", "clip": false},
 "encoding": {"x2": {"field": "x2"}, "y2": {"field": "y2"}}},
{"data": {"name": "rticks"}, "mark": {"type": "rule", "color": "black", "strokeWidth": 1.2, "clip": false},
 "encoding": {"y2": {"field": "y2"}}},
{"data": {"name": "rtext"}, "mark": {"type": "text", "font": "Liberation Serif", "fontSize": 21, "align": "left", "baseline": "alphabetic", "color": "black"},
 "encoding": {"text": {"field": "t"}}}
]
}
]
}
